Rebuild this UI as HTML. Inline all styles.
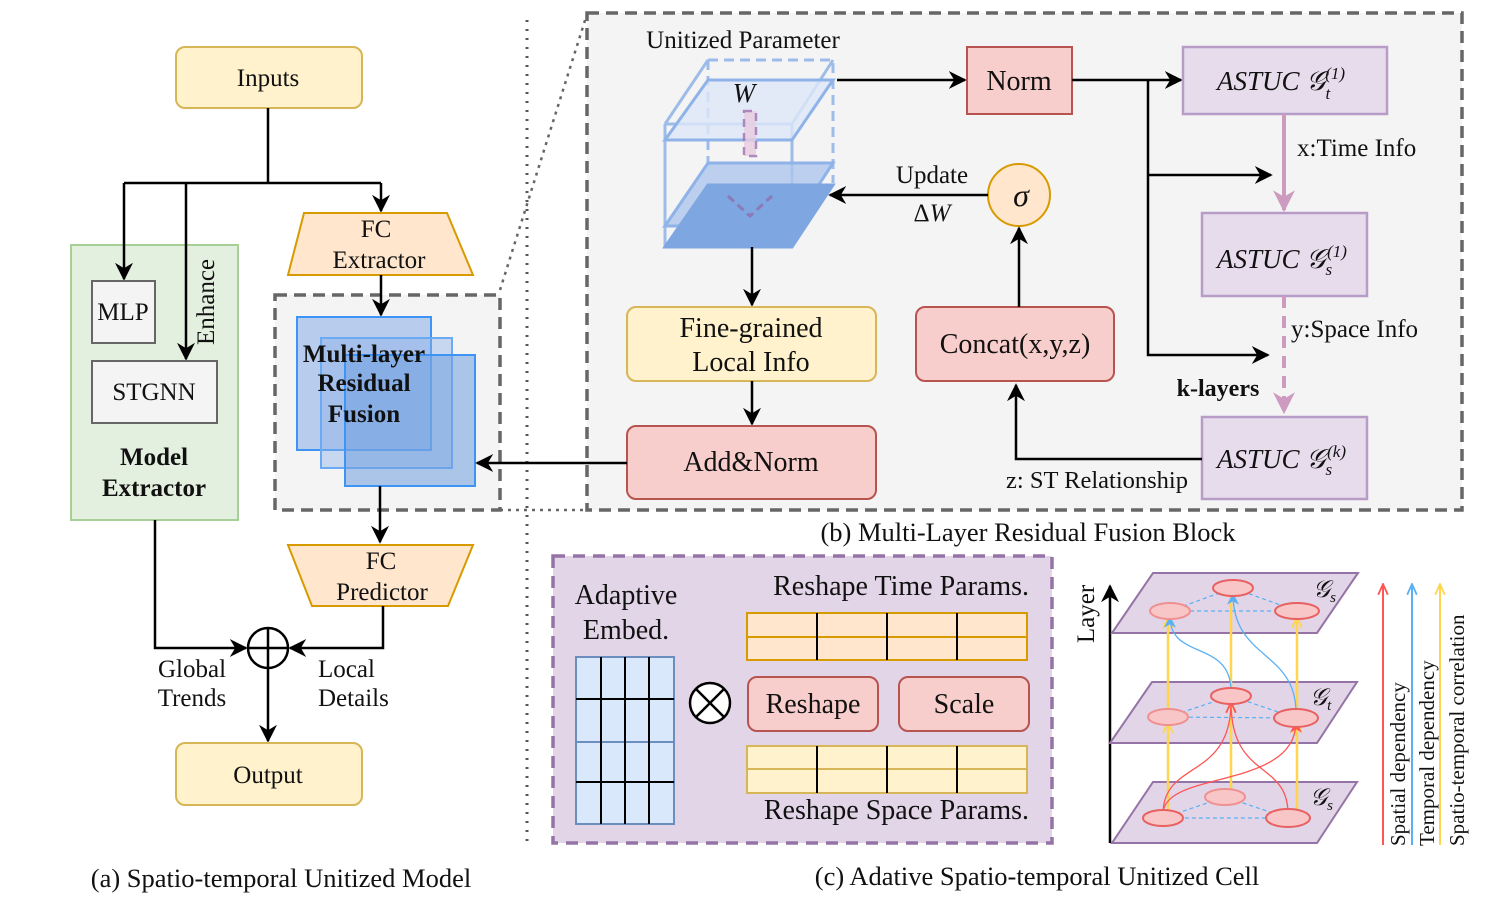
<!DOCTYPE html>
<html><head><meta charset="utf-8"><style>
html,body{margin:0;padding:0;background:#fff;}
svg text{font-family:"Liberation Serif",serif;fill:#111;}
</style></head><body>
<svg width="1495" height="904" viewBox="0 0 1495 904" xmlns="http://www.w3.org/2000/svg">
<defs>
<marker id="ahL" viewBox="0 0 10 10" refX="9" refY="5" markerWidth="18" markerHeight="18" markerUnits="userSpaceOnUse" orient="auto"><path d="M0,0 L10,5 L0,10 L3,5 z" fill="#000"/></marker>
<marker id="ahP" viewBox="0 0 10 10" refX="9" refY="5" markerWidth="22" markerHeight="22" markerUnits="userSpaceOnUse" orient="auto"><path d="M0,0 L10,5 L0,10 L3,5 z" fill="#cd9ac0"/></marker>
<marker id="aR" viewBox="0 0 10 10" refX="9" refY="5" markerWidth="12" markerHeight="12" markerUnits="userSpaceOnUse" orient="auto"><path d="M0,0 L10,5 L0,10 L3,5 z" fill="#f55"/></marker>
<marker id="aB" viewBox="0 0 10 10" refX="9" refY="5" markerWidth="12" markerHeight="12" markerUnits="userSpaceOnUse" orient="auto"><path d="M0,0 L10,5 L0,10 L3,5 z" fill="#5ab0f5"/></marker>
<marker id="aRo" viewBox="0 0 10 10" refX="9" refY="5" markerWidth="12" markerHeight="12" markerUnits="userSpaceOnUse" orient="auto"><path d="M0,1 L9,5 L0,9" fill="none" stroke="#f55" stroke-width="1.5"/></marker>
<marker id="aBo" viewBox="0 0 10 10" refX="9" refY="5" markerWidth="12" markerHeight="12" markerUnits="userSpaceOnUse" orient="auto"><path d="M0,1 L9,5 L0,9" fill="none" stroke="#5ab0f5" stroke-width="1.5"/></marker>
<marker id="aYo" viewBox="0 0 10 10" refX="9" refY="5" markerWidth="12" markerHeight="12" markerUnits="userSpaceOnUse" orient="auto"><path d="M0,1 L9,5 L0,9" fill="none" stroke="#ffd54f" stroke-width="1.5"/></marker>
</defs>

<!-- (a) -->
<rect x="176" y="47" width="186" height="61" rx="9" fill="#fff2cc" stroke="#d6b656" stroke-width="2"/>
<text x="268" y="86" font-size="25" text-anchor="middle">Inputs</text>
<rect x="71" y="245" width="167" height="275" fill="#e3efdf" stroke="#a6d096" stroke-width="2"/>
<path d="M268,108 V183 M124,183 H381" stroke="#000" stroke-width="2.5" fill="none"/>
<path d="M124,183 V279" stroke="#000" stroke-width="2.5" marker-end="url(#ahL)"/>
<path d="M186,183 V359" stroke="#000" stroke-width="2.5" marker-end="url(#ahL)"/>
<path d="M381,183 V211" stroke="#000" stroke-width="2.5" marker-end="url(#ahL)"/>
<rect x="92" y="281" width="63" height="62" fill="#f4f4f4" stroke="#666" stroke-width="2"/>
<text x="123" y="320" font-size="25" text-anchor="middle" fill="#333">MLP</text>
<rect x="92" y="361" width="125" height="62" fill="#f4f4f4" stroke="#666" stroke-width="2"/>
<text x="154" y="400" font-size="25" text-anchor="middle" fill="#333">STGNN</text>
<text x="0" y="0" font-size="25" text-anchor="middle" transform="translate(214,302) rotate(-90)">Enhance</text>
<text x="154" y="465" font-size="25" font-weight="bold" text-anchor="middle">Model</text>
<text x="154" y="496" font-size="25" font-weight="bold" text-anchor="middle">Extractor</text>

<path d="M304,213 H447 L473,275 H288 Z" fill="#ffe6cc" stroke="#d79b00" stroke-width="2"/>
<text x="376" y="237" font-size="25" text-anchor="middle">FC</text>
<text x="379" y="268" font-size="25" text-anchor="middle">Extractor</text>

<rect x="275" y="295" width="225" height="215" fill="#f4f4f4" stroke="#666" stroke-width="3.5" stroke-dasharray="12,7"/>
<path d="M500,290 L587,14" stroke="#666" stroke-width="2.5" stroke-dasharray="3,5"/>
<path d="M500,510 L587,510" stroke="#666" stroke-width="2.5" stroke-dasharray="3,5"/>
<path d="M381,275 V315" stroke="#000" stroke-width="2.5" marker-end="url(#ahL)"/>
<rect x="297" y="317" width="134" height="133" fill="#8fb3e8" fill-opacity="0.6" stroke="#3d94f5" stroke-width="2"/>
<rect x="321" y="338" width="131" height="130" fill="#8fb3e8" fill-opacity="0.45" stroke="#6aaaf5" stroke-width="2"/>
<rect x="345" y="355" width="130" height="131" fill="#6f9ee0" fill-opacity="0.55" stroke="#3d94f5" stroke-width="2"/>
<text x="364" y="362" font-size="25" font-weight="bold" text-anchor="middle">Multi-layer</text>
<text x="364" y="391" font-size="25" font-weight="bold" text-anchor="middle">Residual</text>
<text x="364" y="422" font-size="25" font-weight="bold" text-anchor="middle">Fusion</text>
<path d="M380,486 V542" stroke="#000" stroke-width="2.5" marker-end="url(#ahL)"/>

<path d="M288,545 H473 L448,606 H312 Z" fill="#ffe6cc" stroke="#d79b00" stroke-width="2"/>
<text x="381" y="569" font-size="25" text-anchor="middle">FC</text>
<text x="382" y="600" font-size="25" text-anchor="middle">Predictor</text>

<circle cx="268" cy="648" r="20" fill="#fff" stroke="#000" stroke-width="2.5"/>
<path d="M248,648 H288 M268,628 V668" stroke="#000" stroke-width="2.5"/>
<path d="M155,520 V648 H246" stroke="#000" stroke-width="2.5" fill="none" marker-end="url(#ahL)"/>
<path d="M383,606 V648 H290" stroke="#000" stroke-width="2.5" fill="none" marker-end="url(#ahL)"/>
<path d="M268,668 V741" stroke="#000" stroke-width="2.5" marker-end="url(#ahL)"/>
<text x="192" y="677" font-size="25" text-anchor="middle">Global</text>
<text x="192" y="706" font-size="25" text-anchor="middle">Trends</text>
<text x="318" y="677" font-size="25">Local</text>
<text x="318" y="706" font-size="25">Details</text>
<rect x="176" y="743" width="186" height="62" rx="9" fill="#fff2cc" stroke="#d6b656" stroke-width="2"/>
<text x="268" y="783" font-size="25" text-anchor="middle">Output</text>
<text x="281" y="887" font-size="26.5" text-anchor="middle">(a) Spatio-temporal Unitized Model</text>

<path d="M527,20 V845" stroke="#555" stroke-width="3" stroke-dasharray="2,7"/>

<!-- (b) -->
<rect x="587" y="13" width="875" height="497" fill="#f4f4f4" stroke="#666" stroke-width="3.5" stroke-dasharray="12,7"/>
<text x="743" y="48" font-size="25" text-anchor="middle">Unitized Parameter</text>
<g stroke="#8fb3e8" stroke-width="3" fill="none" opacity="0.85">
<path d="M708,60 H833 V183 M708,60 V168" stroke-dasharray="10,6"/>
<path d="M665,124 L708,60 M792,124 L833,60"/>
<path d="M665,124 H792 V247 M665,124 V247"/>
</g>
<path d="M665,140 L708,80 H833 L792,140 Z" fill="#dde7f8" fill-opacity="0.8" stroke="#8fb3e8" stroke-width="3"/>
<path d="M665,226 L708,163 H833 L792,226 Z" fill="#aec6ee" fill-opacity="0.8" stroke="#8fb3e8" stroke-width="3"/>
<path d="M665,247 L708,185 H833 L792,247 Z" fill="#7ea6e0" stroke="#7ea6e0" stroke-width="3"/>
<rect x="744" y="111" width="12" height="45" fill="#e8cde0" stroke="#a070b0" stroke-width="2.5" stroke-dasharray="8,6" opacity="0.8"/>
<path d="M728,196 L750,216 L772,196" stroke="#8a7ab8" stroke-width="3" fill="none" stroke-dasharray="8,5"/>
<text x="744" y="102" font-size="27" font-style="italic" text-anchor="middle">W</text>

<path d="M837,80 H965" stroke="#000" stroke-width="2.5" marker-end="url(#ahL)"/>
<rect x="967" y="47" width="105" height="67" fill="#f8cecc" stroke="#b85450" stroke-width="2"/>
<text x="1019" y="90" font-size="28" text-anchor="middle">Norm</text>
<path d="M1072,80 H1181" stroke="#000" stroke-width="2.5" marker-end="url(#ahL)"/>
<path d="M1148,80 V355 H1268" stroke="#000" stroke-width="2.5" fill="none" marker-end="url(#ahL)"/>
<path d="M1148,175 H1271" stroke="#000" stroke-width="2.5" marker-end="url(#ahL)"/>

<rect x="1183" y="47" width="204" height="67" fill="#e6dcec" stroke="#b79cc8" stroke-width="2.5"/>
<text x="1217" y="90" font-size="27" font-style="italic">ASTUC 𝒢<tspan font-size="17" dy="9">t</tspan><tspan font-size="17" dy="-20" dx="-5">(1)</tspan></text>
<rect x="1202" y="213" width="165" height="83" fill="#e6dcec" stroke="#b79cc8" stroke-width="2.5"/>
<text x="1217" y="268" font-size="27" font-style="italic">ASTUC 𝒢<tspan font-size="17" dy="7">s</tspan><tspan font-size="17" dy="-18" dx="-5">(1)</tspan></text>
<rect x="1202" y="417" width="165" height="82" fill="#e6dcec" stroke="#b79cc8" stroke-width="2.5"/>
<text x="1217" y="468" font-size="27" font-style="italic">ASTUC 𝒢<tspan font-size="17" dy="7">s</tspan><tspan font-size="17" dy="-18" dx="-5">(k)</tspan></text>
<path d="M1284,114 V210" stroke="#cd9ac0" stroke-width="4" marker-end="url(#ahP)"/>
<path d="M1284,296 V412" stroke="#cd9ac0" stroke-width="4" stroke-dasharray="12,8" marker-end="url(#ahP)"/>
<text x="1297" y="156" font-size="25">x:Time Info</text>
<text x="1291" y="337" font-size="25">y:Space Info</text>
<text x="1218" y="396" font-size="24" font-weight="bold" text-anchor="middle">k-layers</text>

<circle cx="1019" cy="195" r="31" fill="#ffe6cc" stroke="#d79b00" stroke-width="2"/>
<text x="1021" y="206" font-size="32" font-style="italic" text-anchor="middle">σ</text>
<path d="M988,195 H830" stroke="#000" stroke-width="2.5" marker-end="url(#ahL)"/>
<text x="932" y="183" font-size="25" text-anchor="middle">Update</text>
<text x="932" y="221" font-size="25" text-anchor="middle">Δ<tspan font-style="italic">W</tspan></text>
<rect x="916" y="307" width="198" height="74" rx="9" fill="#f8cecc" stroke="#b85450" stroke-width="2"/>
<text x="1015" y="353" font-size="28" text-anchor="middle">Concat(x,y,z)</text>
<path d="M1019,307 V228" stroke="#000" stroke-width="2.5" marker-end="url(#ahL)"/>
<path d="M1202,459 H1016 V385" stroke="#000" stroke-width="2.5" fill="none" marker-end="url(#ahL)"/>
<text x="1097" y="488" font-size="24.5" text-anchor="middle">z: ST Relationship</text>

<path d="M752,247 V305" stroke="#000" stroke-width="2.5" marker-end="url(#ahL)"/>
<rect x="627" y="307" width="249" height="74" rx="9" fill="#fff2cc" stroke="#d6b656" stroke-width="2"/>
<text x="751" y="337" font-size="28" text-anchor="middle">Fine-grained</text>
<text x="751" y="371" font-size="28" text-anchor="middle">Local Info</text>
<path d="M752,381 V424" stroke="#000" stroke-width="2.5" marker-end="url(#ahL)"/>
<rect x="627" y="426" width="249" height="73" rx="9" fill="#f8cecc" stroke="#b85450" stroke-width="2"/>
<text x="751" y="471" font-size="28" text-anchor="middle">Add&amp;Norm</text>
<path d="M627,463 H477" stroke="#000" stroke-width="2.5" marker-end="url(#ahL)"/>
<text x="1028" y="541" font-size="26.5" text-anchor="middle">(b) Multi-Layer Residual Fusion Block</text>

<!-- (c) -->
<rect x="553" y="556" width="499" height="287" fill="#e1d5e7" stroke="#9673a6" stroke-width="3.5" stroke-dasharray="12,8"/>
<text x="626" y="604" font-size="28" text-anchor="middle">Adaptive</text>
<text x="626" y="639" font-size="28" text-anchor="middle">Embed.</text>
<rect x="576" y="657" width="98" height="167" fill="#dae8fc" stroke="#6c8ebf" stroke-width="2"/>
<path d="M576,742 H674" stroke="#6c8ebf" stroke-width="2"/>
<path d="M601,657 V824 M625,657 V824 M649,657 V824 M576,699 H674 M576,782 H674" stroke="#000" stroke-width="2"/>
<circle cx="710" cy="703" r="20" fill="#fff" stroke="#000" stroke-width="2.5"/>
<path d="M696,689 L724,717 M724,689 L696,717" stroke="#000" stroke-width="2.5"/>
<text x="1029" y="595" font-size="28" text-anchor="end">Reshape Time Params.</text>
<rect x="747" y="613" width="280" height="47" fill="#ffe6cc" stroke="#d79b00" stroke-width="2"/>
<path d="M747,637 H1027" stroke="#d79b00" stroke-width="2"/>
<path d="M817,613 V660 M887,613 V660 M957,613 V660" stroke="#000" stroke-width="2"/>
<rect x="748" y="677" width="130" height="54" rx="9" fill="#f8cecc" stroke="#b85450" stroke-width="2"/>
<text x="813" y="713" font-size="28" text-anchor="middle">Reshape</text>
<rect x="899" y="677" width="130" height="54" rx="9" fill="#f8cecc" stroke="#b85450" stroke-width="2"/>
<text x="964" y="713" font-size="28" text-anchor="middle">Scale</text>
<rect x="747" y="746" width="280" height="47" fill="#fff2cc" stroke="#d6b656" stroke-width="2"/>
<path d="M747,769 H1027" stroke="#d6b656" stroke-width="2"/>
<path d="M817,746 V793 M887,746 V793 M957,746 V793" stroke="#000" stroke-width="2"/>
<text x="1029" y="819" font-size="28" text-anchor="end">Reshape Space Params.</text>
<text x="1037" y="885" font-size="26.5" text-anchor="middle">(c) Adative Spatio-temporal Unitized Cell</text>

<!-- layer diagram -->
<path d="M1110,843 V586" stroke="#000" stroke-width="2.5" marker-end="url(#ahL)"/>
<text x="0" y="0" font-size="25" text-anchor="middle" transform="translate(1094,614) rotate(-90)">Layer</text>
<g fill="#e1d5e7" stroke="#9673a6" stroke-width="2">
<path d="M1153,573 H1358 L1317,633 H1112 Z"/>
<path d="M1152,682 H1357 L1317,743 H1110 Z"/>
<path d="M1153,782 H1357 L1317,843 H1112 Z"/>
</g>
<g stroke="#5ab0f5" stroke-width="1.2" stroke-dasharray="4,3" fill="none">
<path d="M1170,611 L1233,588 L1297,611 Z"/>
<path d="M1168,717 L1231,696 L1296,718 Z"/>
<path d="M1163,818 L1225,797 L1288,818 Z"/>
</g>
<g stroke="#ffd54f" stroke-width="2.5" fill="none">
<path d="M1168,814 V722" marker-end="url(#aYo)"/>
<path d="M1231,797 V702" marker-end="url(#aYo)"/>
<path d="M1297,814 V722" marker-end="url(#aYo)"/>
<path d="M1168,712 V617" marker-end="url(#aYo)"/>
<path d="M1231,691 V594"/>
<path d="M1297,713 V617" marker-end="url(#aYo)"/>
</g>
<g stroke="#f55" stroke-width="1.3" fill="none">
<path d="M1163,814 C1163,760 1231,780 1231,702" marker-end="url(#aRo)"/>
<path d="M1163,814 C1163,770 1296,790 1296,722" marker-end="url(#aR)"/>
<path d="M1288,814 C1288,760 1231,780 1231,702"/>
</g>
<g stroke="#5ab0f5" stroke-width="1.3" fill="none">
<path d="M1231,691 C1231,640 1170,660 1170,617" marker-end="url(#aB)"/>
<path d="M1296,713 C1296,650 1233,660 1233,594" marker-end="url(#aB)"/>
</g>
<g fill="#f8c6c6" stroke="#e86060" stroke-width="2">
<ellipse cx="1233" cy="588" rx="20" ry="8"/><ellipse cx="1170" cy="611" rx="20" ry="8" stroke="#f09090"/><ellipse cx="1297" cy="611" rx="22" ry="8"/>
<ellipse cx="1231" cy="696" rx="20" ry="8"/><ellipse cx="1168" cy="717" rx="20" ry="8" stroke="#f09090"/><ellipse cx="1296" cy="718" rx="22" ry="9"/>
<ellipse cx="1225" cy="797" rx="20" ry="8" stroke="#f09090"/><ellipse cx="1163" cy="818" rx="20" ry="8"/><ellipse cx="1288" cy="818" rx="22" ry="9"/>
</g>
<text x="1313" y="597" font-size="24" font-style="italic">𝒢<tspan font-size="15" dy="5">s</tspan></text>
<text x="1310" y="705" font-size="24" font-style="italic">𝒢<tspan font-size="15" dy="5">t</tspan></text>
<text x="1310" y="805" font-size="24" font-style="italic">𝒢<tspan font-size="15" dy="5">s</tspan></text>
<path d="M1383,845 V584" stroke="#f55" stroke-width="2" marker-end="url(#aRo)"/>
<path d="M1412,845 V584" stroke="#5ab0f5" stroke-width="2" marker-end="url(#aBo)"/>
<path d="M1440,845 V584" stroke="#ffd54f" stroke-width="2" marker-end="url(#aYo)"/>
<text x="0" y="0" font-size="21" transform="translate(1405,846) rotate(-90)">Spatial dependency</text>
<text x="0" y="0" font-size="21" transform="translate(1434,846) rotate(-90)">Temporal dependency</text>
<text x="0" y="0" font-size="21" transform="translate(1464,846) rotate(-90)">Spatio-temporal correlation</text>
</svg>
</body></html>
